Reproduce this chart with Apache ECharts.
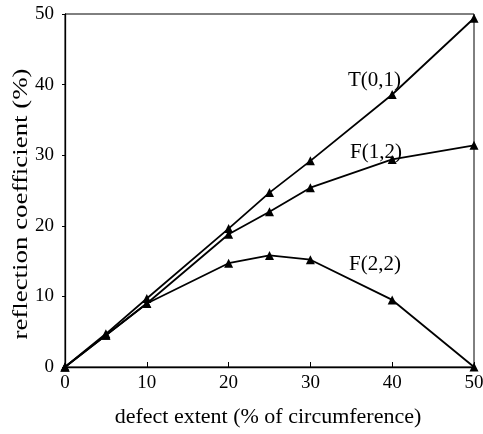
<!DOCTYPE html>
<html>
<head>
<meta charset="utf-8">
<script src="https://cdn.jsdelivr.net/npm/echarts@6/dist/echarts.min.js"></script>
<style>
  html, body { margin: 0; padding: 0; background: #fff; }
  #chart { width: 483px; height: 434px; }
</style>
</head>
<body>
<div id="chart"></div>
<script>
// defect extent (% of circumference)
const extent = [0, 5, 10, 20, 25, 30, 40, 50];
// reflection coefficient (%)
const t01 = [0, 4.7, 9.7, 19.6, 24.7, 29.2, 38.6, 49.4];
const f12 = [0, 4.5, 9.0, 18.8, 22.0, 25.4, 29.4, 31.4];
const f22 = [0, 4.5, 9.0, 14.7, 15.8, 15.2, 9.5, 0];
const xTicks = [0, 10, 20, 30, 40, 50];
const yTicks = [0, 10, 20, 30, 40, 50];

const font = '"Liberation Serif", "DejaVu Serif", serif';

const myChart = echarts.init(document.getElementById('chart'));

function mkSeries(name, vals) {
  return {
    name: name,
    type: 'line',
    data: extent.map((x, i) => [x, vals[i]]),
    symbol: 'triangle',
    symbolSize: 9,
    lineStyle: { color: '#000', width: 1.8 },
    itemStyle: { color: '#000' },
    animation: false
  };
}

myChart.setOption({
  backgroundColor: '#fff',
  grid: {
    left: 65, right: 9, top: 14, bottom: 67,
    outerBoundsMode: 'none', containLabel: false,
    show: true, borderColor: '#000', borderWidth: 1
  },
  xAxis: {
    type: 'value', min: xTicks[0], max: xTicks[xTicks.length - 1], interval: 10,
    axisLine: { lineStyle: { color: '#000', width: 1.3 } },
    axisTick: { inside: true, length: 5, lineStyle: { color: '#000' } },
    axisLabel: { fontFamily: font, fontSize: 19, color: '#000', margin: 7 },
    splitLine: { show: false }
  },
  yAxis: {
    type: 'value', min: yTicks[0], max: yTicks[yTicks.length - 1], interval: 10,
    axisLine: { lineStyle: { color: '#000', width: 1.3 } },
    axisTick: { length: 3, lineStyle: { color: '#000' } },
    axisLabel: { fontFamily: font, fontSize: 19, color: '#000', margin: 11 },
    splitLine: { show: false }
  },
  series: [mkSeries('T(0,1)', t01), mkSeries('F(1,2)', f12), mkSeries('F(2,2)', f22)],
  graphic: [
    { type: 'text', x: 268, y: 417,
      style: { text: 'defect extent (% of circumference)', font: '22px ' + font, fill: '#000', align: 'center', verticalAlign: 'middle' } },
    { type: 'text', x: 21, y: 204, rotation: Math.PI / 2, scaleX: 1.28,
      style: { text: 'reflection coefficient (%)', font: '21px ' + font, fill: '#000', align: 'center', verticalAlign: 'middle' } },
    { type: 'text', x: 348, y: 80, style: { text: 'T(0,1)', font: '21px ' + font, fill: '#000', verticalAlign: 'middle' } },
    { type: 'text', x: 350, y: 152, style: { text: 'F(1,2)', font: '21px ' + font, fill: '#000', verticalAlign: 'middle' } },
    { type: 'text', x: 349, y: 264, style: { text: 'F(2,2)', font: '21px ' + font, fill: '#000', verticalAlign: 'middle' } }
  ]
});
</script>
</body>
</html>
